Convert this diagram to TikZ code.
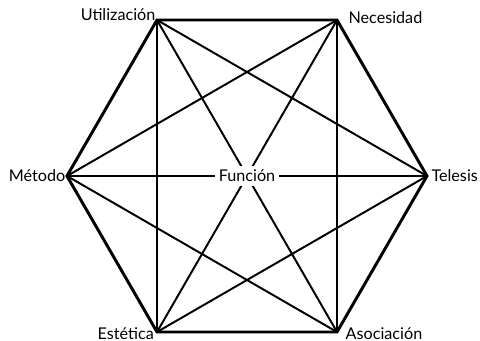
\documentclass[tikz,border=0pt]{standalone}
\usepackage{fontspec}
\setmainfont{Lato}
\usetikzlibrary{positioning}
\tikzset{
  rim/.style={
    line width=2.1pt,
    line join=miter
  },
  chord/.style={
    line width=1.4pt
  },
  vlabel/.style={
    font=\fontsize{11.5}{13}\selectfont,
    inner sep=2pt
  },
  centre/.style={
    font=\fontsize{11.5}{13}\selectfont,
    fill=white,
    inner sep=3pt
  }
}
\begin{document}
\begin{tikzpicture}[x=0.025cm,y=-0.025cm]
    \useasboundingbox (0,0) rectangle (480,341);
    \def\cx{247}
    \def\cy{176}
    \def\r{180}
    \def\h{156}
    % vertices
    \coordinate (U) at (\cx-0.5*\r, \cy-\h);
    \coordinate (N) at (\cx+0.5*\r, \cy-\h);
    \coordinate (T) at (\cx+\r, \cy);
    \coordinate (A) at (\cx+0.5*\r, \cy+\h);
    \coordinate (E) at (\cx-0.5*\r, \cy+\h);
    \coordinate (M) at (\cx-\r, \cy);
    % chords
    \foreach \a/\b in {U/E, U/T, U/A, N/M, N/E, N/A, M/A, E/T, M/T}{
    \draw[chord] (\a) -- (\b);}
    % rim
    \draw[rim] (U) -- (N) -- (T) -- (A) -- (E) -- (M) -- cycle;
    \node[centre] (F) at (\cx,\cy) {Función};
    \node[vlabel, anchor=south east, xshift=1pt, yshift=-3pt] (lU) at (U) {Utilización};
    \node[vlabel, anchor=west, xshift=6pt, yshift=2pt] (lN) at (N) {Necesidad};
    \node[vlabel, anchor=east, xshift=1pt] (lM) at (M) {Método};
    \node[vlabel, anchor=west, xshift=1pt] (lT) at (T) {Telesis};
    \node[vlabel, anchor=east, xshift=0pt, yshift=-1pt] (lE) at (E) {Estética};
    \node[vlabel, anchor=west, xshift=4pt, yshift=-1pt] (lA) at (A) {Asociación};
\end{tikzpicture}
\end{document}
